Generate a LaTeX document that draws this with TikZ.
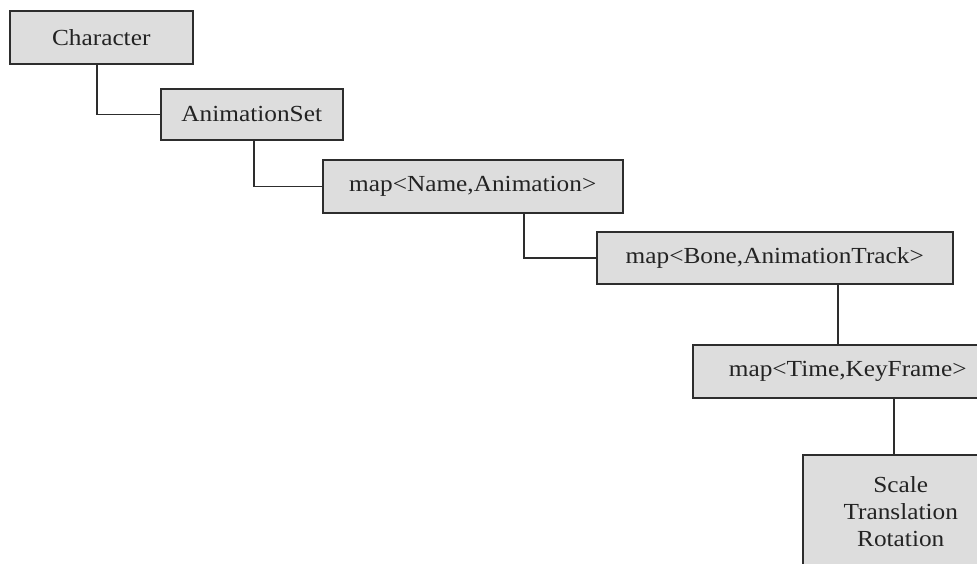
\documentclass[tikz,border=0pt]{standalone}
\usepackage{fontspec}
\setmainfont{Liberation Serif}
\definecolor{boxfill}{RGB}{221,221,221}
\definecolor{boxline}{RGB}{45,45,45}
\definecolor{txt}{RGB}{35,35,35}
% slightly widened serif lettering
\newcommand\wide[1]{\scalebox{1.1}[1]{#1}}
\begin{document}
\begin{tikzpicture}[x=1pt,y=-1pt,
  box/.style={draw=boxline, line width=1.5pt, fill=boxfill, anchor=north west,
    inner sep=0pt, align=center, text=txt, font=\fontsize{23}{27}\selectfont},
  link/.style={draw=boxline, line width=1.5pt}]
\useasboundingbox (0,0) rectangle (977,563);
\clip (0,0) rectangle (977,563);

% containers, each nested one step further
\node[box, minimum width=183pt, minimum height=53pt] (ch)   at (9,10)    {\wide{Character}};
\node[box, minimum width=182pt, minimum height=51pt] (set)  at (160,88)  {\wide{AnimationSet}};
\node[box, minimum width=300pt, minimum height=53pt] (name) at (322,159) {\wide{map<Name,Animation>}};
\node[box, minimum width=356pt, minimum height=52pt] (bone) at (596,231) {\wide{map<Bone,AnimationTrack>}};
\node[box, minimum width=310pt, minimum height=53pt] (time) at (692,344) {\wide{map<Time,KeyFrame>}};
\node[box, minimum width=196pt, minimum height=114pt] (key) at (802,454)
  {\wide{Scale}\\\wide{Translation}\\\wide{Rotation}};

% elbow links from parent to child
\draw[link] ([xshift=88pt]ch.south west)    |- (set.west);
\draw[link] ([xshift=94pt]set.south west)   |- (name.west);
\draw[link] ([xshift=202pt]name.south west) |- (bone.west);
% straight drops
\draw[link] ([xshift=146pt]time.north west) -- ([xshift=146pt]time.north west |- bone.south);
\draw[link] ([xshift=92pt]key.north west)   -- ([xshift=92pt]key.north west |- time.south);
\end{tikzpicture}
\end{document}
